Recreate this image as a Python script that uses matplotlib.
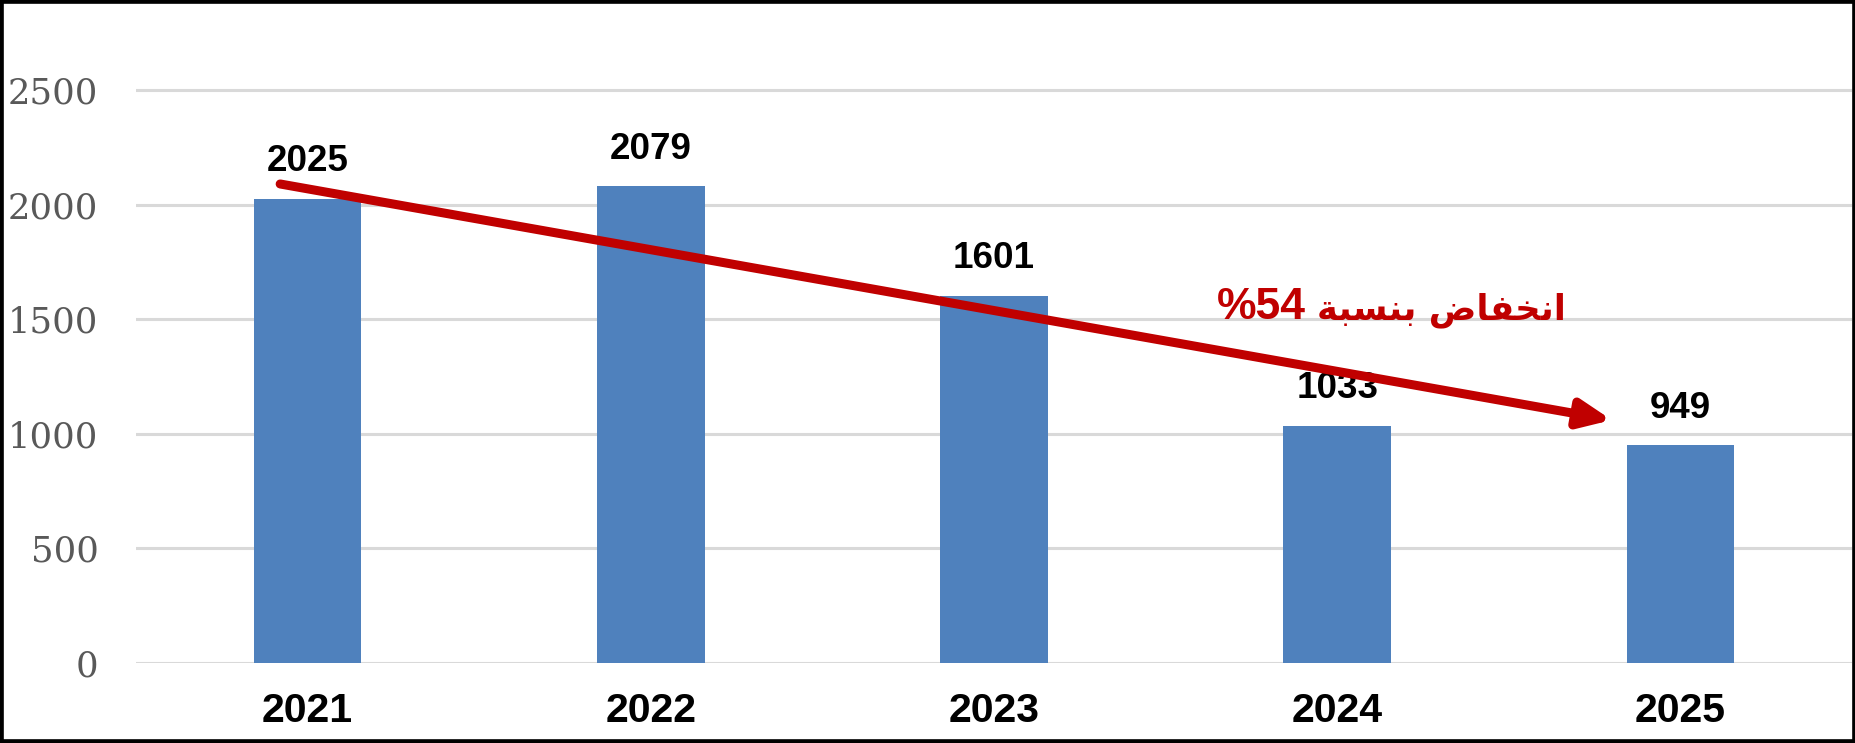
import matplotlib
matplotlib.use("Agg")
import matplotlib.pyplot as plt
import numpy as np
from matplotlib.patches import Rectangle

YEARS = ["2021", "2022", "2023", "2024", "2025"]
COUNTS = [2025, 2079, 1601, 1033, 949]
Y_TICKS = [0, 500, 1000, 1500, 2000, 2500]

# trend arrow ends, in (category index, value) units
TREND_START = (-0.08, 2090)
TREND_END = (3.80, 1060)
TREND_WORDS = "انخفاض بنسبة"
TREND_PCT = "%54"
TREND_LABEL_POS = (2.94, 1500)

BAR_COLOR = "#4F81BD"
RED = "#C00000"
GRID = "#D9D9D9"

# contextual forms: isolated, final, initial, medial
FORMS = {
  "ا": ("\uFE8D", "\uFE8E", None, None),
  "ة": ("\uFE93", "\uFE94", None, None),
  "ب": ("\uFE8F", "\uFE90", "\uFE91", "\uFE92"),
  "ن": ("\uFEE5", "\uFEE6", "\uFEE7", "\uFEE8"),
  "س": ("\uFEB1", "\uFEB2", "\uFEB3", "\uFEB4"),
  "خ": ("\uFEA5", "\uFEA6", "\uFEA7", "\uFEA8"),
  "ف": ("\uFED1", "\uFED2", "\uFED3", "\uFED4"),
  "ض": ("\uFEBD", "\uFEBE", "\uFEBF", "\uFEC0"),
}


def shape_word(word: str) -> str:
  out = []
  for i, ch in enumerate(word):
    iso, fin, ini, med = FORMS[ch]
    prev_joins = i > 0 and FORMS[word[i - 1]][2] is not None
    next_joins = i < len(word) - 1 and ini is not None
    if prev_joins and next_joins:
      out.append(med)
    elif prev_joins:
      out.append(fin)
    elif next_joins:
      out.append(ini)
    else:
      out.append(iso)
  return "".join(reversed(out))


def visual_rtl(text: str) -> str:
  return " ".join(shape_word(w) for w in reversed(text.split()))


def main() -> None:
  fig = plt.figure(figsize=(18.56, 7.43), dpi=100)
  ax = fig.add_axes([136 / 1856, 80 / 743, 1716 / 1856, 659 / 743])

  x = np.arange(len(YEARS))
  ax.bar(x, COUNTS, width=0.314, color=BAR_COLOR, zorder=2)
  ax.set_xlim(-0.5, len(YEARS) - 0.5)
  ax.set_ylim(0, 659 / 0.2292)

  ax.set_yticks(Y_TICKS)
  ax.set_yticklabels([str(t) for t in Y_TICKS], family="DejaVu Serif", fontsize=25.5, color="#595959")
  ax.set_xticks(x)
  ax.set_xticklabels(YEARS, family="Liberation Sans", fontweight="bold", fontsize=29.5)
  ax.tick_params(axis="y", length=0, pad=27)
  ax.tick_params(axis="x", length=0, pad=21)
  for t in Y_TICKS:
    ax.axhline(t, color=GRID, lw=2.2, zorder=1)
  for side in ax.spines.values():
    side.set_visible(False)

  for xi, v in zip(x, COUNTS):
    ax.annotate(str(v), (xi, v), xytext=(0, 20), textcoords="offset points", ha="center", va="baseline",
                family="Liberation Sans", fontweight="bold", fontsize=26.5, zorder=3)

  ax.annotate("", xy=TREND_END, xytext=TREND_START,
              arrowprops=dict(arrowstyle="-|>,head_length=0.95,head_width=0.42", color=RED, lw=6.5,
                              shrinkA=0, shrinkB=0, mutation_scale=20), zorder=4)
  # the words and the number sit on one baseline, number to the left
  ax.annotate(visual_rtl(TREND_WORDS), TREND_LABEL_POS, ha="left", va="baseline", color=RED,
              family="DejaVu Sans", fontweight="bold", fontsize=25.5, zorder=5)
  ax.annotate(TREND_PCT, TREND_LABEL_POS, xytext=(-8, 0), textcoords="offset points", ha="right",
              va="baseline", color=RED, family="Liberation Sans", fontweight="bold", fontsize=32, zorder=5)

  fig.add_artist(Rectangle((0, 0), 1, 1, transform=fig.transFigure, fill=False, edgecolor="black", lw=5.5))
  fig.savefig("out.png", dpi=100, facecolor="white")


if __name__ == "__main__":
  main()
